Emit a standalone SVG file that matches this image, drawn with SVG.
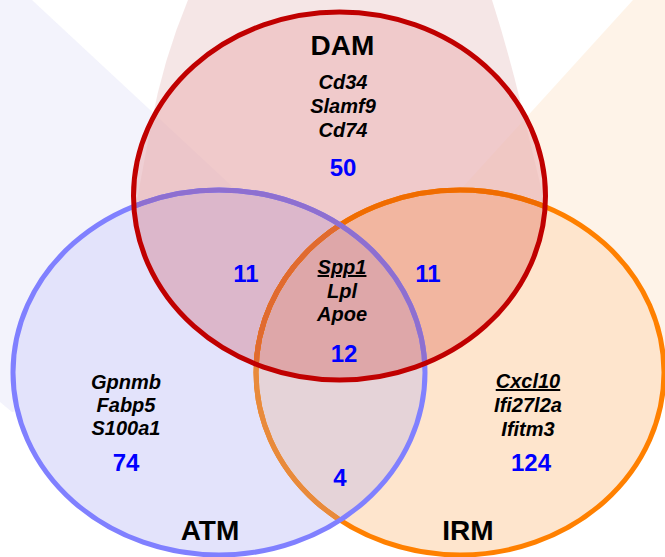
<svg xmlns="http://www.w3.org/2000/svg" width="665" height="557" viewBox="0 0 665 557">
<defs>
<style>
.lbl{font-family:"Liberation Sans",Arial,sans-serif;font-weight:bold;font-size:28px;text-anchor:middle;fill:#000}
.gene{font-family:"Liberation Sans",Arial,sans-serif;font-weight:bold;font-style:italic;font-size:20px;text-anchor:middle;fill:#000}
.num{font-family:"Liberation Sans",Arial,sans-serif;font-weight:bold;font-size:24px;text-anchor:middle;fill:#0000FF}
.u{text-decoration:underline}
.ring{fill:none;stroke-width:5}
</style>
<ellipse id="eDAM" cx="339.5" cy="196" rx="206" ry="184"/>
<ellipse id="eATM" cx="219" cy="372.5" rx="206" ry="182.5"/>
<ellipse id="eIRM" cx="460" cy="372.5" rx="204" ry="182.5"/>
<clipPath id="cDAM"><ellipse cx="339.5" cy="196" rx="206" ry="184"/></clipPath>
<clipPath id="cATM"><ellipse cx="219" cy="372.5" rx="206" ry="182.5"/></clipPath>
</defs>

<g id="beams">
<polygon points="0,0 32,0 262,214 219,372 12,412 0,402" fill="#CFCFF3" opacity="0.25"/>
<path d="M188,0 Q163,60 151,125 L137,200 L340,300 L544,200 L521,104 Q508,50 492,0 Z" fill="#D79B9B" opacity="0.25"/>
<polygon points="633,0 665,0 665,380 460,372 442,210" fill="#FBCFA3" opacity="0.25"/>
</g>

<g id="regions">
<use href="#eIRM" fill="#FEE5CD"/>
<use href="#eATM" fill="#E3E3FB"/>
<use href="#eIRM" fill="#E5D3D8" clip-path="url(#cATM)"/>
<use href="#eDAM" fill="rgb(237,183,185)" fill-opacity="0.6"/>
<use href="#eATM" fill="#DCB7CB" clip-path="url(#cDAM)"/>
<use href="#eIRM" fill="#F2B6A0" clip-path="url(#cDAM)"/>
<g clip-path="url(#cDAM)"><use href="#eIRM" fill="#DEA7A9" clip-path="url(#cATM)"/></g>
</g>

<g id="IRM">
<use href="#eIRM" class="ring" stroke="#FF8000"/>
<use href="#eIRM" class="ring" stroke="#E88A3C" clip-path="url(#cATM)"/>
<use href="#eIRM" class="ring" stroke="#F06C00" clip-path="url(#cDAM)"/>
<g clip-path="url(#cDAM)"><use href="#eIRM" class="ring" stroke="#E06A30" clip-path="url(#cATM)"/></g>
<text class="lbl" x="468" y="540">IRM</text>
<text class="gene u" x="528" y="388">Cxcl10</text>
<text class="gene" x="528" y="412">Ifi27l2a</text>
<text class="gene" x="528" y="436">Ifitm3</text>
<text class="num" x="531" y="471">124</text>
</g>

<g id="ATM">
<use href="#eATM" class="ring" stroke="#8080FF"/>
<use href="#eATM" class="ring" stroke="#8E6FD0" clip-path="url(#cDAM)"/>
<text class="lbl" x="210" y="540">ATM</text>
<text class="gene" x="126" y="389">Gpnmb</text>
<text class="gene" x="126" y="412">Fabp5</text>
<text class="gene" x="126" y="435">S100a1</text>
<text class="num" x="126" y="471">74</text>
</g>

<g id="DAM">
<use href="#eDAM" class="ring" stroke="#C00000"/>
<text class="lbl" x="342.5" y="55">DAM</text>
<text class="gene" x="343" y="89">Cd34</text>
<text class="gene" x="343" y="113">Slamf9</text>
<text class="gene" x="343" y="137">Cd74</text>
<text class="num" x="343" y="176">50</text>
</g>

<g id="overlaps">
<text class="num" x="246" y="282">11</text>
<text class="num" x="428" y="282">11</text>
<text class="gene u" x="342" y="274">Spp1</text>
<text class="gene" x="342" y="298">Lpl</text>
<text class="gene" x="342" y="321">Apoe</text>
<text class="num" x="344" y="362">12</text>
<text class="num" x="340" y="486">4</text>
</g>

<g id="connectors"/>
</svg>
